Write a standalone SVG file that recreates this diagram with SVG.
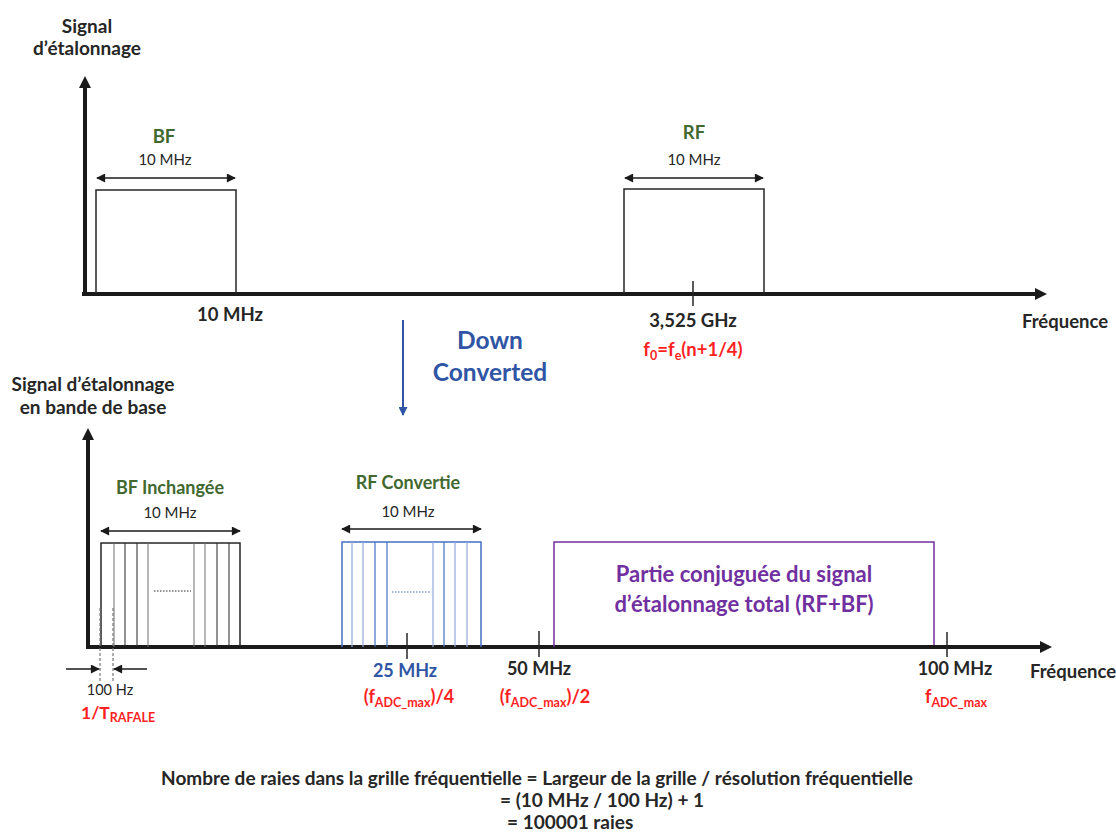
<svg xmlns="http://www.w3.org/2000/svg" width="1116" height="834" viewBox="0 0 1116 834">
<style>
text{font-family:Lato,"Liberation Sans",sans-serif;fill:#262626}
.b{font-weight:bold}
.t19{font-size:19px}
.t18{font-size:18.5px}
.t15{font-size:15px}
.l18{font-size:18px}
.mid{text-anchor:middle}
.sub{font-size:12.5px}
.green{fill:#41692F}
.blue{fill:#2F55A4}
.red{fill:#FF1F1F}
.purple{fill:#7030A0}
.axis{stroke:#1a1a1a;stroke-width:4;fill:none}
.dim{stroke:#1a1a1a;stroke-width:1.5;fill:none}
.box{stroke:#262626;stroke-width:1.5;fill:none}
.tick{stroke:#262626;stroke-width:1.5}
.kl{stroke:#262626;stroke-width:1}
.gl{stroke:#707070;stroke-width:1}
.bl{stroke:#4472C4;stroke-width:1.2}
.lbl{stroke:#8FAADC;stroke-width:1.2}
</style>
<defs>
<marker id="axh" viewBox="0 0 10 10" refX="0" refY="5" markerWidth="13" markerHeight="12" markerUnits="userSpaceOnUse" orient="auto"><path d="M0,0 L10,5 L0,10 z" fill="#1a1a1a"/></marker>
<marker id="dh" viewBox="0 0 10 10" refX="9" refY="5" markerWidth="11" markerHeight="9" markerUnits="userSpaceOnUse" orient="auto-start-reverse"><path d="M0,0 L10,5 L0,10 z" fill="#1a1a1a"/></marker>
<marker id="bh" viewBox="0 0 10 10" refX="9" refY="5" markerWidth="10" markerHeight="9" markerUnits="userSpaceOnUse" orient="auto"><path d="M0,0 L10,5 L0,10 z" fill="#2F55A4"/></marker>
</defs>

<g id="top-axes">
<line class="axis" x1="85" y1="296" x2="85" y2="88" marker-end="url(#axh)"/>
<line class="axis" x1="82" y1="294" x2="1035" y2="294" marker-end="url(#axh)"/>
<text class="b t19 mid" x="87" y="33">Signal</text>
<text class="b t19 mid" x="87" y="55">d’étalonnage</text>
<text class="b t18" x="1022" y="328">Fréquence</text>
</g>

<g id="top-bf">
<polyline class="box" points="96,294 96,190 236,190 236,294"/>
<line class="dim" x1="97" y1="178" x2="235" y2="178" marker-start="url(#dh)" marker-end="url(#dh)"/>
<text class="b t18 mid green" x="164" y="143">BF</text>
<text class="t15 mid" x="165" y="165">10 MHz</text>
<text class="b t18 mid" x="230" y="321">10 MHz</text>
</g>

<g id="top-rf">
<polyline class="box" points="624,294 624,189 764,189 764,294"/>
<line class="dim" x1="625" y1="178" x2="763" y2="178" marker-start="url(#dh)" marker-end="url(#dh)"/>
<line class="tick" x1="693" y1="281" x2="693" y2="306"/>
<text class="b t18 mid green" x="694" y="139">RF</text>
<text class="t15 mid" x="694" y="165">10 MHz</text>
<text class="b t18 mid" x="693" y="327">3,525 GHz</text>
<text class="b t18 mid red" x="693" y="356">f<tspan dy="4" class="sub">0</tspan><tspan dy="-4">=f</tspan><tspan dy="4" class="sub">e</tspan><tspan dy="-4">(n+1/4)</tspan></text>
</g>

<g id="down-converted">
<line x1="403" y1="320" x2="403" y2="415" stroke="#2F55A4" stroke-width="2" marker-end="url(#bh)"/>
<text class="b mid blue" style="font-size:24.5px" x="490" y="349">Down</text>
<text class="b mid blue" style="font-size:24.5px" x="490" y="381">Converted</text>
</g>

<g id="bottom-axes">
<line class="axis" x1="88" y1="649" x2="88" y2="440" marker-end="url(#axh)"/>
<line class="axis" x1="86" y1="647" x2="1040" y2="647" marker-end="url(#axh)"/>
<text class="b t19 mid" x="93" y="391">Signal d’étalonnage</text>
<text class="b t19 mid" x="93" y="414">en bande de base</text>
<text class="b t18" x="1030" y="678">Fréquence</text>
</g>

<g id="bf-inchangee">
<polyline class="box" points="101,647 101,543 240,543 240,647"/>
<line class="gl" x1="114" y1="543" x2="114" y2="647"/>
<line class="kl" x1="125" y1="543" x2="125" y2="647"/>
<line class="kl" x1="137" y1="543" x2="137" y2="647"/>
<line class="gl" x1="148" y1="543" x2="148" y2="647"/>
<line class="gl" x1="194" y1="543" x2="194" y2="647"/>
<line class="gl" x1="205" y1="543" x2="205" y2="647"/>
<line class="kl" x1="217" y1="543" x2="217" y2="647"/>
<line class="kl" x1="229" y1="543" x2="229" y2="647"/>
<line x1="154" y1="591" x2="191" y2="591" stroke="#262626" stroke-width="1.2" stroke-dasharray="1.5,1.5"/>
<line class="dim" x1="101" y1="531" x2="240" y2="531" marker-start="url(#dh)" marker-end="url(#dh)"/>
<text class="b l18 mid green" x="170" y="494">BF Inchangée</text>
<text class="t15 mid" x="170" y="518">10 MHz</text>
</g>

<g id="resolution">
<line x1="100" y1="608" x2="100" y2="682" stroke="#777" stroke-width="1.2" stroke-dasharray="3,2"/>
<line x1="113" y1="608" x2="113" y2="682" stroke="#777" stroke-width="1.2" stroke-dasharray="3,2"/>
<line class="dim" x1="66" y1="669" x2="99" y2="669" marker-end="url(#dh)"/>
<line class="dim" x1="147" y1="669" x2="114" y2="669" marker-end="url(#dh)"/>
<text class="mid" style="font-size:14.5px" x="110" y="695">100 Hz</text>
<text class="b red" style="font-size:17.5px" x="81" y="719">1/T<tspan dy="3" class="sub">RAFALE</tspan></text>
</g>

<g id="rf-convertie">
<polyline points="342,647 342,542 481,542 481,647" fill="none" stroke="#4472C4" stroke-width="1.5"/>
<line class="lbl" x1="352" y1="542" x2="352" y2="647"/>
<line class="lbl" x1="363" y1="542" x2="363" y2="647"/>
<line class="bl" x1="375" y1="542" x2="375" y2="647"/>
<line class="bl" x1="387" y1="542" x2="387" y2="647"/>
<line class="lbl" x1="433" y1="542" x2="433" y2="647"/>
<line class="bl" x1="444" y1="542" x2="444" y2="647"/>
<line class="lbl" x1="455" y1="542" x2="455" y2="647"/>
<line class="lbl" x1="467" y1="542" x2="467" y2="647"/>
<line x1="392" y1="592" x2="430" y2="592" stroke="#4472C4" stroke-width="1.2" stroke-dasharray="1.5,1.5"/>
<line class="dim" x1="342" y1="529" x2="481" y2="529" marker-start="url(#dh)" marker-end="url(#dh)"/>
<text class="b l18 mid green" x="408" y="489">RF Convertie</text>
<text class="t15 mid" x="408" y="517">10 MHz</text>
<line class="tick" x1="407" y1="633" x2="407" y2="659"/>
<text class="b l18 mid blue" x="405" y="677">25 MHz</text>
<text class="b l18 mid red" x="409" y="703">(f<tspan dy="4" class="sub">ADC_max</tspan><tspan dy="-4">)/4</tspan></text>
</g>

<g id="nyquist">
<line class="tick" x1="539" y1="631" x2="539" y2="657"/>
<text class="b l18 mid" x="539" y="675">50 MHz</text>
<text class="b l18 mid red" x="545" y="703">(f<tspan dy="4" class="sub">ADC_max</tspan><tspan dy="-4">)/2</tspan></text>
</g>

<g id="partie-conjuguee">
<polyline points="554,647 554,542 934,542 934,645" fill="none" stroke="#7030A0" stroke-width="1.5"/>
<text class="b mid purple" style="font-size:22px" x="744" y="582">Partie conjuguée du signal</text>
<text class="b mid purple" style="font-size:22px" x="744" y="612">d’étalonnage total (RF+BF)</text>
</g>

<g id="fadc-max">
<line class="tick" x1="947" y1="632" x2="947" y2="657"/>
<text class="b l18 mid" x="955" y="675">100 MHz</text>
<text class="b l18 mid red" x="956" y="703">f<tspan dy="4" class="sub">ADC_max</tspan></text>
</g>

<g id="formula">
<text class="b t19 mid" x="537" y="785">Nombre de raies dans la grille fréquentielle = Largeur de la grille / résolution fréquentielle</text>
<text class="b t19" x="500" y="807">= (10 MHz / 100 Hz) + 1</text>
<text class="b t19" x="507" y="829">= 100001 raies</text>
</g>
</svg>
